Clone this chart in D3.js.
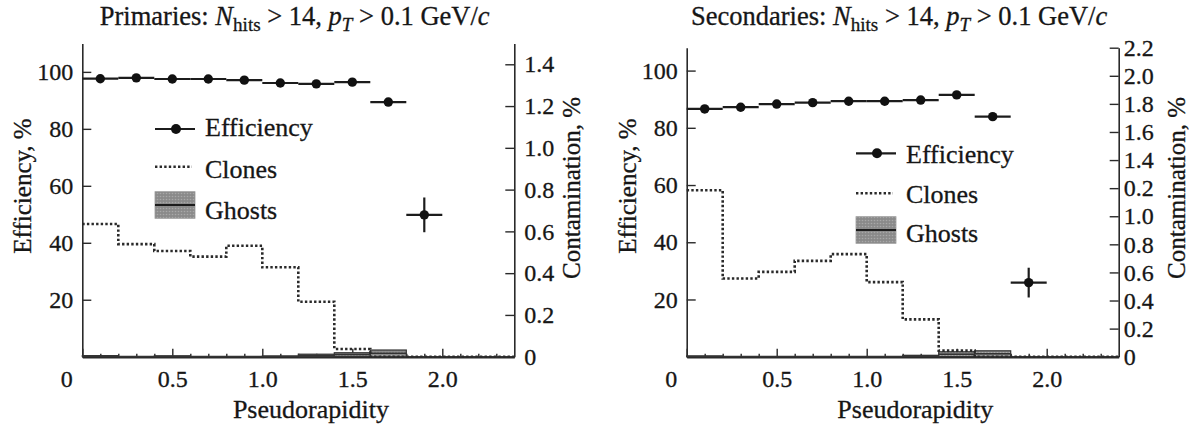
<!DOCTYPE html>
<html>
<head>
<meta charset="utf-8">
<script src="https://cdn.jsdelivr.net/npm/d3@7"></script>
<style>
body { margin: 0; background: #fff; }
svg text { font-family: "Liberation Serif", "Times New Roman", serif; fill: #161616; stroke: #161616; stroke-width: 0.3px; }
</style>
</head>
<body>
<svg width="1194" height="425"></svg>
<script>

// pseudorapidity bin edges (bin width 0.2)
let binEdges = [0, 0.2, 0.4, 0.6, 0.8, 1.0, 1.2, 1.4, 1.6, 1.8, 2.0, 2.2, 2.4];
let xTicks = [0, 0.5, 1.0, 1.5, 2.0];
let xMinorTicks = [0.1, 0.2, 0.3, 0.4, 0.6, 0.7, 0.8, 0.9, 1.1, 1.2, 1.3, 1.4, 1.6, 1.7, 1.8, 1.9, 2.1, 2.2, 2.3];
let effTicks = [0, 20, 40, 60, 80, 100];

// primaries
let effPrim = [97.6, 97.9, 97.5, 97.5, 97.1, 96.1, 95.8, 96.4, 89.4, 49.8];
let effPrimErr = [0.3, 0.3, 0.3, 0.3, 0.3, 0.3, 0.3, 0.4, 0.8, 6.1];
let clonesPrim = [0.635, 0.539, 0.506, 0.479, 0.531, 0.428, 0.263, 0.037, 0, 0, 0, 0];
let ghostsPrim = [0.003, 0.001, 0.002, 0.001, 0.001, 0.002, 0.006, 0.010, 0.016, 0, 0, 0];
let ghostsPrimErr = [0.002, 0, 0.002, 0, 0, 0.001, 0.006, 0.009, 0.016, 0, 0, 0];
let contTicksPrim = [0, 0.2, 0.4, 0.6, 0.8, 1.0, 1.2, 1.4];
let contLabelsPrim = ["0", "0.2", "0.4", "0.6", "0.8", "1.0", "1.2", "1.4"];

// secondaries
let effSec = [86.6, 87.2, 88.3, 88.8, 89.3, 89.3, 89.7, 91.5, 83.9, 25.9];
let effSecErr = [0.3, 0.3, 0.3, 0.3, 0.3, 0.3, 0.3, 0.4, 0.8, 5.2];
let clonesSec = [1.185, 0.557, 0.604, 0.682, 0.730, 0.531, 0.266, 0.043, 0, 0, 0, 0];
let ghostsSec = [0.003, 0.001, 0.001, 0.001, 0.001, 0.001, 0.006, 0.018, 0.021, 0, 0, 0];
let ghostsSecErr = [0.002, 0, 0, 0, 0, 0, 0.004, 0.017, 0.021, 0, 0, 0];
let contTicksSec = [0, 0.2, 0.4, 0.6, 0.8, 1.0, 1.2, 1.4, 1.6, 1.8, 2.0, 2.2];
// the original figure prints "0.2" at the 1.2 tick
let contLabelsSec = ["0", "0.2", "0.4", "0.6", "0.8", "1.0", "0.2", "1.4", "1.6", "1.8", "2.0", "2.2"];

var svg = d3.select("svg");

// dotted fill for the ghosts band
var pat = svg.append("defs").append("pattern")
    .attr("id", "dots")
    .attr("width", 3).attr("height", 3)
    .attr("patternUnits", "userSpaceOnUse");
pat.append("rect").attr("width", 3).attr("height", 3).attr("fill", "#8a8a8a");
pat.append("circle").attr("cx", 1.5).attr("cy", 1.5).attr("r", 0.8).attr("fill", "#a8a8a8");

var panels = [
    {
        name: "Primaries", x0: 82.3, yTop: 43.4, effMax: 110, contMax: 1.5,
        eff: effPrim, effErr: effPrimErr, clones: clonesPrim, ghosts: ghostsPrim, ghostsErr: ghostsPrimErr,
        contTicks: contTicksPrim, contLabels: contLabelsPrim, rightPad: 10,
        legend: {x: 155, eff: [129, 136], clones: [166.7, 177.5], ghosts: [191.7, 218.3, 218.5]}
    },
    {
        name: "Secondaries", x0: 686.7, yTop: 47.7, effMax: 108, contMax: 2.2,
        eff: effSec, effErr: effSecErr, clones: clonesSec, ghosts: ghostsSec, ghostsErr: ghostsSecErr,
        contTicks: contTicksSec, contLabels: contLabelsSec, rightPad: 5,
        legend: {x: 856, eff: [153.3, 163], clones: [193.3, 202.5], ghosts: [216.7, 243.3, 242]}
    }
];

let yBottom = 356.7;
let plotW = 432;
let tickFont = 24;

panels.forEach(drawPanel);

function drawPanel(p) {
    var g = svg.append("g");

    var x = d3.scaleLinear().domain([0, 2.4]).range([p.x0, p.x0 + plotW]);
    var yEff = d3.scaleLinear().domain([0, p.effMax]).range([yBottom, p.yTop]);
    var yCont = d3.scaleLinear().domain([0, p.contMax]).range([yBottom, p.yTop]);

    //axes, ticks point inwards
    var xAxis = g.append("g")
        .attr("transform", "translate(0," + yBottom + ")")
        .call(d3.axisBottom(x).tickValues(xTicks).tickSize(-8).tickSizeOuter(0).tickPadding(13)
            .tickFormat(function(d) { return d === 0 ? "0" : d.toFixed(1); }));
    xAxis.selectAll("text").attr("font-size", tickFont)
        .attr("dx", function(d) { return d === 0 ? -16 : 0; });

    g.append("g")
        .attr("transform", "translate(0," + yBottom + ")")
        .call(d3.axisBottom(x).tickValues(xMinorTicks).tickSize(-3).tickFormat(""))
        .select(".domain").remove();

    var yl = g.append("g")
        .attr("transform", "translate(" + p.x0 + ",0)")
        .call(d3.axisLeft(yEff).tickValues(effTicks).tickSize(-9).tickSizeOuter(0).tickPadding(9)
            .tickFormat(function(d) { return d === 0 ? "" : d; }));
    yl.selectAll("text").attr("font-size", tickFont);

    var yr = g.append("g")
        .attr("transform", "translate(" + (p.x0 + plotW) + ",0)")
        .call(d3.axisRight(yCont).tickValues(p.contTicks).tickSize(-9).tickSizeOuter(0).tickPadding(p.rightPad)
            .tickFormat(function(d, i) { return p.contLabels[i]; }));
    yr.selectAll("text").attr("font-size", tickFont);

    g.selectAll(".domain").attr("stroke", "#2a2a2a").attr("stroke-width", 1.6);
    xAxis.select(".domain").attr("stroke-width", 2.4);
    g.selectAll(".tick line").attr("stroke", "#2a2a2a").attr("stroke-width", 1.4);

    // ghosts: band with a central line
    var ghostData = p.ghosts.map(function(v, i) {
        return {lo: binEdges[i], hi: binEdges[i + 1], v: v, e: p.ghostsErr[i]};
    });
    g.selectAll(".ghost")
        .data(ghostData.filter(function(d) { return d.e > 0; }))
        .enter().append("rect")
        .attr("x", function(d) { return x(d.lo); })
        .attr("width", function(d) { return x(d.hi) - x(d.lo); })
        .attr("y", function(d) { return yCont(d.v + d.e); })
        .attr("height", function(d) { return yCont(Math.max(0, d.v - d.e)) - yCont(d.v + d.e); })
        .attr("fill", "url(#dots)")
        .attr("stroke", "#333")
        .attr("stroke-width", 1.2);
    g.selectAll(".ghostline")
        .data(ghostData)
        .enter().append("line")
        .attr("x1", function(d) { return x(d.lo); })
        .attr("x2", function(d) { return x(d.hi); })
        .attr("y1", function(d) { return yCont(d.v); })
        .attr("y2", function(d) { return yCont(d.v); })
        .attr("stroke", "#333")
        .attr("stroke-width", 1.5);

    // clones: dotted step line
    var stepPts = p.clones.map(function(v, i) { return [binEdges[i], v]; });
    stepPts.push([binEdges[binEdges.length - 1], p.clones[p.clones.length - 1]]);
    g.append("path")
        .datum(stepPts)
        .attr("fill", "none")
        .attr("stroke", "#2a2a2a")
        .attr("stroke-width", 2.6)
        .attr("stroke-dasharray", "2.4,2.2")
        .attr("d", d3.line()
            .curve(d3.curveStepAfter)
            .x(function(d) { return x(d[0]); })
            .y(function(d) { return yCont(d[1]); }));

    // efficiency: horizontal bin bars, vertical errors, dots
    var effData = p.eff.map(function(v, i) {
        return {lo: binEdges[i], hi: binEdges[i + 1], v: v, e: p.effErr[i]};
    });
    var eg = g.selectAll(".eff").data(effData).enter().append("g");
    eg.append("line")
        .attr("x1", function(d) { return x(d.lo); })
        .attr("x2", function(d) { return x(d.hi); })
        .attr("y1", function(d) { return yEff(d.v); })
        .attr("y2", function(d) { return yEff(d.v); })
        .attr("stroke", "#1c1c1c").attr("stroke-width", 2.2);
    eg.append("line")
        .attr("x1", function(d) { return x((d.lo + d.hi) / 2); })
        .attr("x2", function(d) { return x((d.lo + d.hi) / 2); })
        .attr("y1", function(d) { return yEff(d.v - d.e); })
        .attr("y2", function(d) { return yEff(d.v + d.e); })
        .attr("stroke", "#1c1c1c").attr("stroke-width", 2.2);
    eg.append("circle")
        .attr("cx", function(d) { return x((d.lo + d.hi) / 2); })
        .attr("cy", function(d) { return yEff(d.v); })
        .attr("r", 4.7)
        .attr("fill", "#111");

    // axis titles
    g.append("text")
        .attr("text-anchor", "middle")
        .attr("font-size", 26)
        .attr("x", x(1.27)).attr("y", 418)
        .text("Pseudorapidity");
    g.append("text")
        .attr("text-anchor", "middle")
        .attr("font-size", 25)
        .attr("transform", "translate(" + (p.x0 - 51) + ",186) rotate(-90)")
        .text("Efficiency, %");
    g.append("text")
        .attr("text-anchor", "middle")
        .attr("font-size", 25)
        .attr("transform", "translate(" + (p.x0 + plotW + 66) + ",188) rotate(-90)")
        .text("Contamination, %");

    // title with italic symbols and subscripts
    var t = g.append("text")
        .attr("text-anchor", "middle")
        .attr("font-size", 26.5)
        .attr("x", x(1.18)).attr("y", 25);
    t.append("tspan").text(p.name + ": ");
    t.append("tspan").attr("font-style", "italic").text("N");
    t.append("tspan").attr("font-size", "0.72em").attr("dy", 6).text("hits");
    t.append("tspan").attr("dy", -6).text(" > 14, ");
    t.append("tspan").attr("font-style", "italic").text("p");
    t.append("tspan").attr("font-style", "italic").attr("font-size", "0.72em").attr("dy", 6).text("T");
    t.append("tspan").attr("dy", -6).text(" > 0.1 GeV/");
    t.append("tspan").attr("font-style", "italic").text("c");

    // legend
    var L = p.legend;
    var lg = g.append("g");
    lg.append("line").attr("x1", L.x).attr("x2", L.x + 40).attr("y1", L.eff[0]).attr("y2", L.eff[0])
        .attr("stroke", "#1c1c1c").attr("stroke-width", 2.2);
    lg.append("circle").attr("cx", L.x + 21).attr("cy", L.eff[0]).attr("r", 5).attr("fill", "#111");
    lg.append("text").attr("x", L.x + 50).attr("y", L.eff[1]).attr("font-size", 26).text("Efficiency");

    lg.append("line").attr("x1", L.x).attr("x2", L.x + 37).attr("y1", L.clones[0]).attr("y2", L.clones[0])
        .attr("stroke", "#2a2a2a").attr("stroke-width", 2.6).attr("stroke-dasharray", "2.4,2.2");
    lg.append("text").attr("x", L.x + 50).attr("y", L.clones[1]).attr("font-size", 26).text("Clones");

    lg.append("rect").attr("x", L.x).attr("width", 40)
        .attr("y", L.ghosts[0]).attr("height", L.ghosts[1] - L.ghosts[0])
        .attr("fill", "url(#dots)").attr("stroke", "#999").attr("stroke-width", 0.8);
    lg.append("line").attr("x1", L.x).attr("x2", L.x + 40)
        .attr("y1", (L.ghosts[0] + L.ghosts[1]) / 2).attr("y2", (L.ghosts[0] + L.ghosts[1]) / 2)
        .attr("stroke", "#1c1c1c").attr("stroke-width", 2.2);
    lg.append("text").attr("x", L.x + 50).attr("y", L.ghosts[2]).attr("font-size", 26).text("Ghosts");
}

</script>
</body>
</html>
